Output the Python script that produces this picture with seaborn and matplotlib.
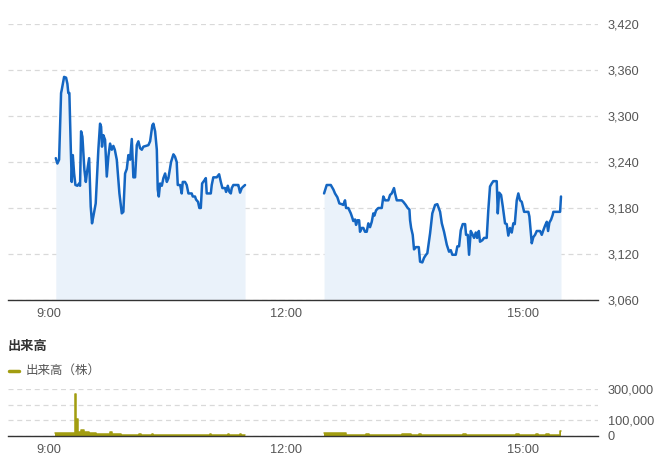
import matplotlib
matplotlib.use("Agg")
import matplotlib.pyplot as plt
import seaborn as sns
import pandas as pd
from matplotlib.lines import Line2D

# ---- data (minutes after 9:00) ----
am_minutes = [5.5, 6.7, 8, 9.5, 10, 11.8, 13.3, 14.3, 15, 15.8,
              16.9, 17.6, 18.4, 19.4, 20.4, 21.9, 23.2, 23.9, 24.7, 25.7,
              27.2, 28.3, 29.2, 30.8, 32, 33, 34, 35.8, 37.8, 39.1,
              39.9, 40.6, 41.6, 42.9, 44.2, 45.4, 46.7, 48, 49.2, 50.3,
              51.8, 53.8, 55.6, 56.8, 58.1, 59.4, 60.6, 61.9, 63.2, 64.4,
              65.7, 67, 68.2, 69.5, 70.8, 72, 74, 75.8, 77.1, 78.8,
              79.6, 80.9, 82.2, 82.9, 83.7, 84.7, 86, 87.2, 88.5, 89.8,
              91, 93, 94.8, 96, 97.3, 98.1, 99.9, 101.1, 101.9, 103.6,
              104.9, 106.2, 108.7, 109.5, 111.2, 112, 113.5, 114.5, 115.6, 116.6,
              118.3, 119.4, 120.1, 121.3, 123.2, 123.9, 125.1, 127.7, 129.5, 130.8,
              132, 134, 134.8, 136.1, 137.3, 138.4, 139.1, 140.3, 142.9, 144.1,
              145.4, 146.7, 147.9, 149.2]
am_price = [3245, 3238, 3243, 3330, 3334, 3351, 3350, 3342, 3330, 3330,
            3256, 3214, 3249, 3225, 3210, 3209, 3212, 3209, 3280, 3273,
            3230, 3214, 3227, 3245, 3182, 3160, 3169, 3186, 3256, 3290,
            3286, 3260, 3275, 3269, 3221, 3247, 3264, 3256, 3261, 3256,
            3243, 3199, 3173, 3175, 3225, 3231, 3249, 3243, 3270, 3220,
            3220, 3262, 3267, 3258, 3256, 3260, 3261, 3262, 3267, 3288,
            3290, 3280, 3256, 3204, 3195, 3212, 3209, 3219, 3225, 3214,
            3219, 3240, 3250, 3247, 3240, 3210, 3210, 3199, 3214, 3214,
            3210, 3199, 3199, 3195, 3195, 3191, 3188, 3180, 3180, 3212,
            3216, 3219, 3199, 3199, 3199, 3210, 3220, 3220, 3224, 3214,
            3206, 3206, 3201, 3209, 3201, 3199, 3206, 3210, 3210, 3210,
            3200, 3206, 3208, 3210]

pm_minutes = [209.2, 211.2, 214.3, 216.3, 217.5, 219.3, 220.8, 222.6, 223.8, 225.1,
              225.9, 227.6, 229.5, 230.7, 231.4, 232.7, 233.5, 234.5, 235.8, 236.5,
              237.8, 239.0, 240.3, 241.6, 242.8, 244.1, 245.4, 246.6, 247.4, 248.7,
              250.4, 253.0, 254.2, 255.5, 258.0, 259.3, 260.6, 262.3, 263.1, 264.4,
              268.2, 269.4, 271.2, 272.7, 274.0, 274.5, 275.3, 276.5, 277.5, 279.0,
              281.1, 282.1, 283.8, 285.1, 286.6, 287.6, 289.7, 291.4, 293.5, 295.2,
              297.3, 298.6, 300.3, 302.4, 304.1, 305.4, 306.6, 309.2, 310.4, 311.7,
              313.0, 314.5, 316.3, 317.0, 318.3, 319.3, 320.6, 321.8, 323.1, 324.4,
              325.4, 326.7, 327.6, 329.4, 330.7, 332.7, 333.9, 335.2, 336.5, 337.7,
              340.3, 341.1, 342.1, 343.6, 344.9, 346.6, 347.9, 349.1, 350.4, 351.7,
              352.9, 354.0, 355.5, 356.7, 358.0, 359.3, 361.1, 364.3, 365.1, 366.9,
              368.1, 369.4, 370.7, 373.2, 374.5, 375.7, 377.0, 378.3, 379.3, 380.3,
              381.6, 382.8, 383.3, 385.9, 388.4, 389.1]
pm_price = [3199, 3210, 3210, 3204, 3199, 3194, 3186, 3185, 3184, 3190,
            3180, 3180, 3173, 3167, 3163, 3165, 3158, 3164, 3164, 3149,
            3154, 3154, 3149, 3149, 3160, 3155, 3162, 3173, 3170, 3177,
            3180, 3180, 3195, 3190, 3190, 3197, 3199, 3206, 3199, 3190,
            3190, 3188, 3184, 3180, 3178, 3164, 3154, 3145, 3126, 3129,
            3129, 3110, 3109, 3115, 3119, 3121, 3147, 3173, 3184, 3185,
            3175, 3160, 3149, 3132, 3123, 3125, 3119, 3119, 3130, 3130,
            3151, 3159, 3159, 3145, 3145, 3119, 3150, 3146, 3141, 3148,
            3141, 3150, 3136, 3138, 3141, 3141, 3177, 3208, 3212, 3215,
            3215, 3173, 3200, 3197, 3182, 3160, 3159, 3144, 3154, 3148,
            3160, 3159, 3190, 3199, 3190, 3188, 3175, 3175, 3169, 3134,
            3142, 3145, 3150, 3150, 3145, 3151, 3157, 3162, 3150, 3161,
            3165, 3171, 3175, 3175, 3175, 3195]

vol_am_minutes = [4.9, 20.2, 21.2, 22.0, 24.5, 27.0, 31.0, 36.0, 46.5, 48.5,
                  55.0, 69.0, 70.5, 78.5, 79.5, 92.0, 100.0, 122.5, 123.5, 136.0,
                  137.0, 145.0, 146.0]
vol_am = [20000, 270000, 107000, 28000, 38000, 24000, 17000, 11000, 28000, 13000,
          7000, 13000, 7000, 10000, 7000, 9000, 7000, 12000, 7000, 12000,
          7000, 12000, 7000]
vol_am_end = 149.2
vol_pm_minutes = [209.2, 226.0, 241.0, 243.0, 265.0, 268.5, 275.0, 281.0, 283.0, 290.0,
                  300.0, 315.0, 317.0, 335.0, 337.0, 355.0, 357.0, 370.0, 372.0, 378.0,
                  380.0, 388.4]
vol_pm = [18000, 6000, 10000, 6000, 8000, 14000, 7000, 11000, 7000, 9000,
          7000, 10000, 7000, 9000, 6000, 10000, 7000, 11000, 7000, 12000,
          7000, 30000]
vol_pm_end = 389.4

x_ticks = [0, 180, 360]
x_labels = ["9:00", "12:00", "15:00"]
price_ticks = [3060, 3120, 3180, 3240, 3300, 3360, 3420]
vol_ticks = [0, 100000, 200000, 300000]
vol_tick_labels = ["0", "100,000", "", "300,000"]

# ---- style ----
sns.set_theme(style="white")
plt.rcParams["font.family"] = ["Liberation Sans", "Noto Sans CJK JP"]

LINE = "#1466c2"
FILL = "#eaf2fa"
VOL = "#a29d10"
TICK = "#555555"
GRID = "#d9d9d9"

W, H = 656, 462
fig = plt.figure(figsize=(W / 100, H / 100), dpi=100)


def box(l, t, r, b):
    return [l / W, 1 - b / H, (r - l) / W, (b - t) / H]


xlim = (-30.8, 417.2)

# ---- price panel ----
ax = fig.add_axes(box(8, 24, 598, 300))
for mins, prices in ((am_minutes, am_price), (pm_minutes, pm_price)):
    df = pd.DataFrame({"t": mins, "p": prices})
    ax.fill_between(df["t"], df["p"], 3060, color=FILL, lw=0, zorder=1)
    sns.lineplot(data=df, x="t", y="p", ax=ax, color=LINE, lw=1.8,
                 estimator=None, sort=False, zorder=3)

ax.set_xlim(*xlim)
ax.set_ylim(3060, 3420)
ax.set_yticks(price_ticks)
ax.set_yticklabels([f"{v:,}" for v in price_ticks])
ax.set_xticks(x_ticks)
ax.set_xticklabels(x_labels)
ax.yaxis.tick_right()
ax.tick_params(axis="y", length=0, pad=7, labelsize=9.2, labelcolor=TICK)
ax.tick_params(axis="x", length=0, pad=5.5, labelsize=9.2, labelcolor=TICK)
ax.yaxis.grid(True, color=GRID, linestyle=(0, (4, 3)), lw=0.9, zorder=0)
ax.xaxis.grid(False)
for s in ("top", "left", "right"):
    ax.spines[s].set_visible(False)
ax.spines["bottom"].set_color("#333333")
ax.spines["bottom"].set_linewidth(1.0)
ax.spines["bottom"].set_zorder(4)
ax.set_xlabel("")
ax.set_ylabel("")

# ---- volume panel ----
axv = fig.add_axes(box(8, 389, 598, 436))
for mins, vals, end in ((vol_am_minutes, vol_am, vol_am_end),
                        (vol_pm_minutes, vol_pm, vol_pm_end)):
    xs = list(mins) + [end]
    ys = list(vals) + [vals[-1]]
    dfv = pd.DataFrame({"t": xs, "v": ys})
    axv.fill_between(dfv["t"], dfv["v"], 0, step="post", color=VOL, lw=0, zorder=2)
    sns.lineplot(data=dfv, x="t", y="v", ax=axv, color=VOL, lw=1.1,
                 drawstyle="steps-post", estimator=None, sort=False, zorder=3)

axv.set_xlim(*xlim)
axv.set_ylim(0, 300000)
axv.set_yticks(vol_ticks)
axv.set_yticklabels(vol_tick_labels)
axv.set_xticks(x_ticks)
axv.set_xticklabels(x_labels)
axv.yaxis.tick_right()
axv.tick_params(axis="y", length=0, pad=7, labelsize=9.2, labelcolor=TICK)
axv.tick_params(axis="x", length=0, pad=6, labelsize=9.2, labelcolor=TICK)
axv.yaxis.grid(True, color=GRID, linestyle=(0, (4, 3)), lw=0.9, zorder=0)
axv.xaxis.grid(False)
for s in ("top", "left", "right"):
    axv.spines[s].set_visible(False)
axv.spines["bottom"].set_color("#333333")
axv.spines["bottom"].set_linewidth(1.0)
axv.spines["bottom"].set_zorder(4)
axv.set_xlabel("")
axv.set_ylabel("")

# ---- titles / legend ----
fig.text(8 / W, 1 - 347 / H, "出来高", fontsize=9.5, fontweight="bold",
         color="#333333", va="center", ha="left")
fig.add_artist(Line2D([9 / W, 19 / W], [1 - 371 / H, 1 - 371 / H],
                      transform=fig.transFigure, color=VOL, lw=2.5))
fig.text(26 / W, 1 - 371 / H, "出来高（株）", fontsize=9, color=TICK,
         va="center", ha="left")

fig.savefig("out.png", dpi=100)
